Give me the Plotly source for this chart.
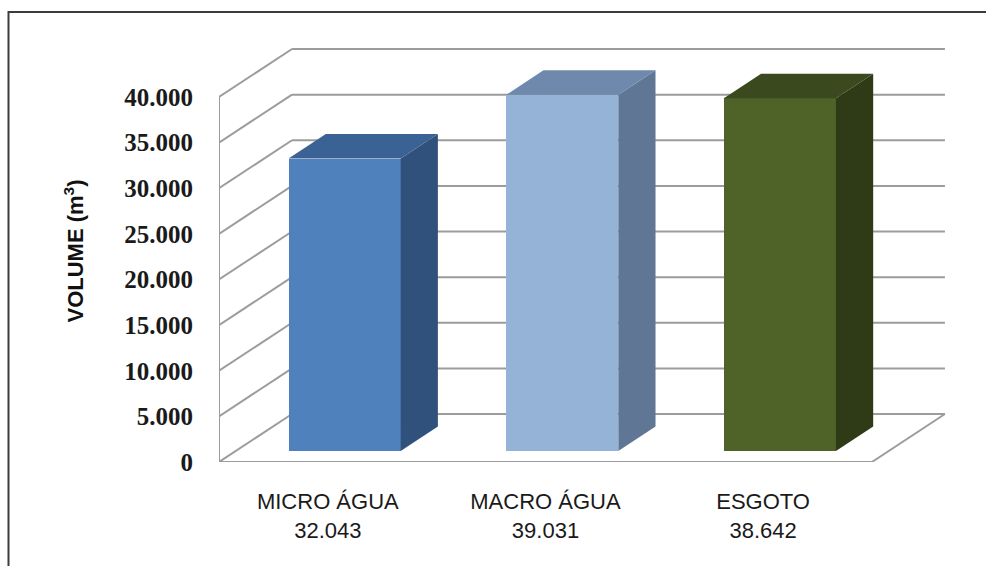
import plotly.graph_objects as go

# ---- data ----
categories = ["MICRO ÁGUA", "MACRO ÁGUA", "ESGOTO"]
volumes = [32043, 39031, 38642]
y_ticks = [0, 5000, 10000, 15000, 20000, 25000, 30000, 35000, 40000]

front_colors = ["#4F81BD", "#95B3D7", "#4F6228"]
side_colors = ["#31517D", "#5F7794", "#2F3B17"]
top_colors = ["#3A6294", "#6E89AB", "#3B4A1E"]

# ---- layout geometry (pixels) ----
W, H = 986, 566
L_M, R_M, T_M, B_M = 219, 27, 40, 104
plot_w = W - L_M - R_M
plot_h = H - T_M - B_M
x_range = [-0.5, 2.9]
px_per_x = plot_w / (x_range[1] - x_range[0])
px_per_y = 365 / 40000
y_max = plot_h / px_per_y

# oblique depth offsets (data units)
DX = 73 / px_per_x
DY = 48 / px_per_y
F0, F1 = 0.23, 0.74          # bar front / back depth fraction
BAR_W = 0.515

grid_color = "#9C9C9C"
xs = list(range(len(categories)))
ticktext = [f"{c}<br>{v:,}".replace(",", ".") for c, v in zip(categories, volumes)]

fig = go.Figure()

# front faces of bars
fig.add_trace(go.Bar(
    x=[c + F0 * DX for c in xs],
    y=volumes,
    base=[F0 * DY] * len(xs),
    width=BAR_W,
    marker=dict(color=front_colors, line=dict(width=0)),
    showlegend=False, hoverinfo="skip",
))

ddx = (F1 - F0) * DX
ddy = (F1 - F0) * DY
for c, v, sc, tc in zip(xs, volumes, side_colors, top_colors):
    xl = c + F0 * DX - BAR_W / 2
    xr = c + F0 * DX + BAR_W / 2
    b = F0 * DY
    # side face
    fig.add_trace(go.Scatter(
        x=[xr, xr + ddx, xr + ddx, xr, xr],
        y=[b, b + ddy, b + ddy + v, b + v, b],
        fill="toself", fillcolor=sc, mode="lines", line=dict(width=0, color=sc),
        showlegend=False, hoverinfo="skip",
    ))
    # top face
    fig.add_trace(go.Scatter(
        x=[xl, xr, xr + ddx, xl + ddx, xl],
        y=[b + v, b + v, b + v + ddy, b + v + ddy, b + v],
        fill="toself", fillcolor=tc, mode="lines", line=dict(width=0, color=tc),
        showlegend=False, hoverinfo="skip",
    ))

# walls / gridlines as shapes below traces
shapes = []
xl0, xr0 = -0.5, len(categories) - 0.5
ln = dict(color=grid_color, width=2)
for t in y_ticks:
    shapes.append(dict(type="line", xref="x", yref="y", x0=xl0 + DX, y0=t + DY,
                       x1=xr0 + DX, y1=t + DY, line=ln, layer="below"))
    shapes.append(dict(type="line", xref="x", yref="y", x0=xl0, y0=t,
                       x1=xl0 + DX, y1=t + DY, line=ln, layer="below"))
shapes.append(dict(type="line", xref="x", yref="y", x0=xl0, y0=0, x1=xl0, y1=y_ticks[-1],
                   line=ln, layer="below"))
shapes.append(dict(type="line", xref="x", yref="y", x0=xl0, y0=0, x1=xr0, y1=0,
                   line=ln, layer="below"))
shapes.append(dict(type="line", xref="x", yref="y", x0=xr0, y0=0, x1=xr0 + DX, y1=DY,
                   line=ln, layer="below"))
# outer frame (extends past right/bottom edges)
fx0 = (8.5 - L_M) / plot_w
fy1 = (H - B_M - 12) / plot_h
shapes.append(dict(type="rect", xref="paper", yref="paper", x0=fx0, x1=1.2,
                   y0=-0.5, y1=fy1, line=dict(color="#3C3C3C", width=2), layer="below"))

fig.update_layout(
    width=W, height=H,
    margin=dict(l=L_M, r=R_M, t=T_M, b=B_M),
    paper_bgcolor="white", plot_bgcolor="white",
    separators=",.",
    shapes=shapes,
    showlegend=False,
    xaxis=dict(
        range=x_range, tickmode="array", tickvals=xs, ticktext=ticktext,
        showgrid=False, zeroline=False, showline=False,
        ticks="outside", ticklen=20, tickcolor="rgba(0,0,0,0)",
        tickfont=dict(family="Liberation Sans", size=22, color="#1a1a1a"),
    ),
    yaxis=dict(
        range=[0, y_max], tickmode="array", tickvals=y_ticks, tickformat=",d",
        showgrid=False, zeroline=False, showline=False,
        ticks="outside", ticklen=20, tickcolor="rgba(0,0,0,0)",
        tickfont=dict(family="Liberation Serif", size=25, color="#1a1a1a", weight="bold"),
        title=dict(text="VOLUME (m<sup>3</sup>)", standoff=34,
                   font=dict(family="Liberation Sans", size=22, color="#111111", weight="bold")),
    ),
    bargap=0,
)

fig.write_html("out.html")
